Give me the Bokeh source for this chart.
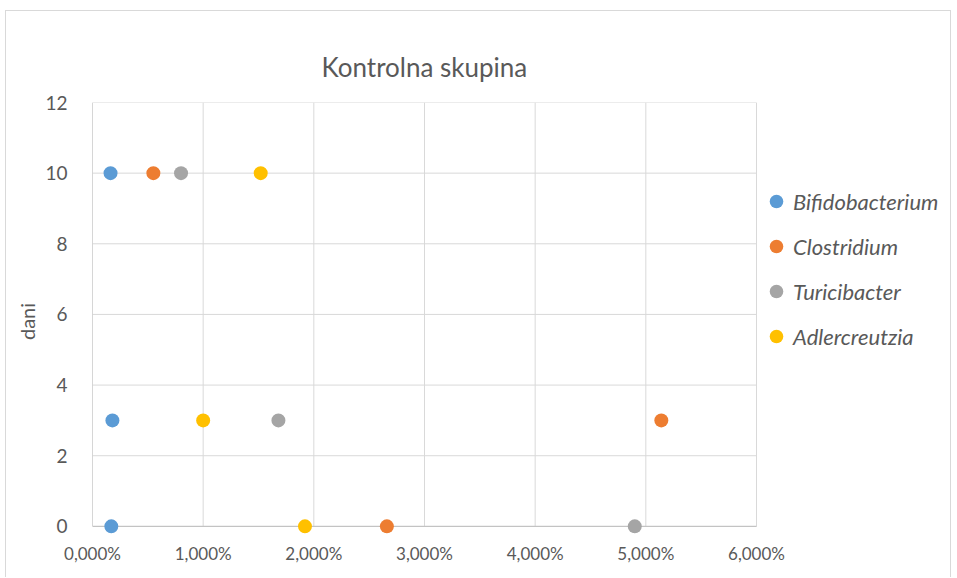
from bokeh.plotting import figure
from bokeh.models import Range1d, CustomJSTickFormatter, Legend, LegendItem, FixedTicker
from bokeh.embed import file_html
from bokeh.resources import INLINE

# ---- data ----
series_names = ["Bifidobacterium", "Clostridium", "Turicibacter", "Adlercreutzia"]
days = [10, 3, 0]
bifidobacterium = [0.163, 0.180, 0.170]   # percent
clostridium = [0.550, 5.140, 2.660]
turicibacter = [0.800, 1.680, 4.900]
adlercreutzia = [1.520, 1.000, 1.920]
series_values = [bifidobacterium, clostridium, turicibacter, adlercreutzia]
colors = ["#5B9BD5", "#ED7D31", "#A5A5A5", "#FFC000"]
x_ticks = [0, 1, 2, 3, 4, 5, 6]
y_ticks = [0, 2, 4, 6, 8, 10, 12]

TEXT = "#595959"
FONT = "Lato"
GRID = "#D9D9D9"
AXIS = "#BFBFBF"
y_pad = 0.4      # room under the zero line so the markers on it are not clipped
x_extra = 1.735  # extra room right of the plot area that holds the legend

p = figure(width=946, height=567, output_backend="svg", toolbar_location=None,
           x_range=Range1d(x_ticks[0], x_ticks[-1] + x_extra),
           y_range=Range1d(y_ticks[0] - y_pad, y_ticks[-1]),
           min_border_left=86, min_border_right=4, min_border_top=91, min_border_bottom=38,
           title="Kontrolna skupina")
p.styles = {"border-top": "1px solid #D9D9D9", "border-left": "1px solid #D9D9D9",
            "border-right": "1px solid #D9D9D9", "margin-left": "5px", "margin-top": "10px"}
p.outline_line_color = None
p.background_fill_color = "white"

p.title.align = "left"
p.title.offset = 229
p.title.text_font = FONT
p.title.text_font_size = "26px"
p.title.text_font_style = "normal"
p.title.text_color = TEXT
p.title.standoff = 39

# grid lines and axis lines, limited to the plot area 0..6 x 0..12
nx = len(x_ticks)
ny = len(y_ticks)
p.segment(x0=x_ticks, y0=[y_ticks[0]] * nx, x1=x_ticks, y1=[y_ticks[-1]] * nx,
          line_color=GRID, line_width=1)
p.segment(x0=[x_ticks[0]] * ny, y0=y_ticks, x1=[x_ticks[-1]] * ny, y1=y_ticks,
          line_color=GRID, line_width=1)
p.segment(x0=[x_ticks[0], x_ticks[0]], y0=[y_ticks[0], y_ticks[0]],
          x1=[x_ticks[0], x_ticks[-1]], y1=[y_ticks[-1], y_ticks[0]],
          line_color=AXIS, line_width=1)

renderers = []
for name, vals, col in zip(series_names, series_values, colors):
    r = p.scatter(vals, days, size=14, fill_color=col, line_color=None)
    renderers.append((name, r))

p.xaxis.ticker = FixedTicker(ticks=x_ticks)
p.yaxis.ticker = FixedTicker(ticks=y_ticks)
p.xaxis.formatter = CustomJSTickFormatter(code="return tick.toFixed(3).replace('.', ',') + '%';")

for ax in (p.xaxis, p.yaxis):
    ax.major_tick_line_color = None
    ax.minor_tick_line_color = None
    ax.axis_line_color = None
    ax.major_label_text_font = FONT
    ax.major_label_text_color = TEXT
p.xaxis.major_label_text_font_size = "17px"
p.yaxis.major_label_text_font_size = "19px"
p.xaxis.major_label_standoff = -4
p.yaxis.major_label_standoff = 19
p.yaxis.axis_label = "dani"
p.yaxis.axis_label_text_font = FONT
p.yaxis.axis_label_text_font_size = "20px"
p.yaxis.axis_label_text_font_style = "normal"
p.yaxis.axis_label_text_color = TEXT
p.yaxis.axis_label_standoff = 3

p.xgrid.grid_line_color = None
p.ygrid.grid_line_color = None

legend = Legend(items=[LegendItem(label=nm, renderers=[r]) for nm, r in renderers],
                location=(667, 187), border_line_color=None, background_fill_alpha=0,
                label_text_font=FONT, label_text_font_style="italic",
                label_text_font_size="22px", label_text_color=TEXT,
                glyph_width=34, glyph_height=34, spacing=11, label_standoff=0,
                padding=0, margin=0)
p.add_layout(legend, "center")

open("out.html", "w").write(file_html(p, INLINE))
